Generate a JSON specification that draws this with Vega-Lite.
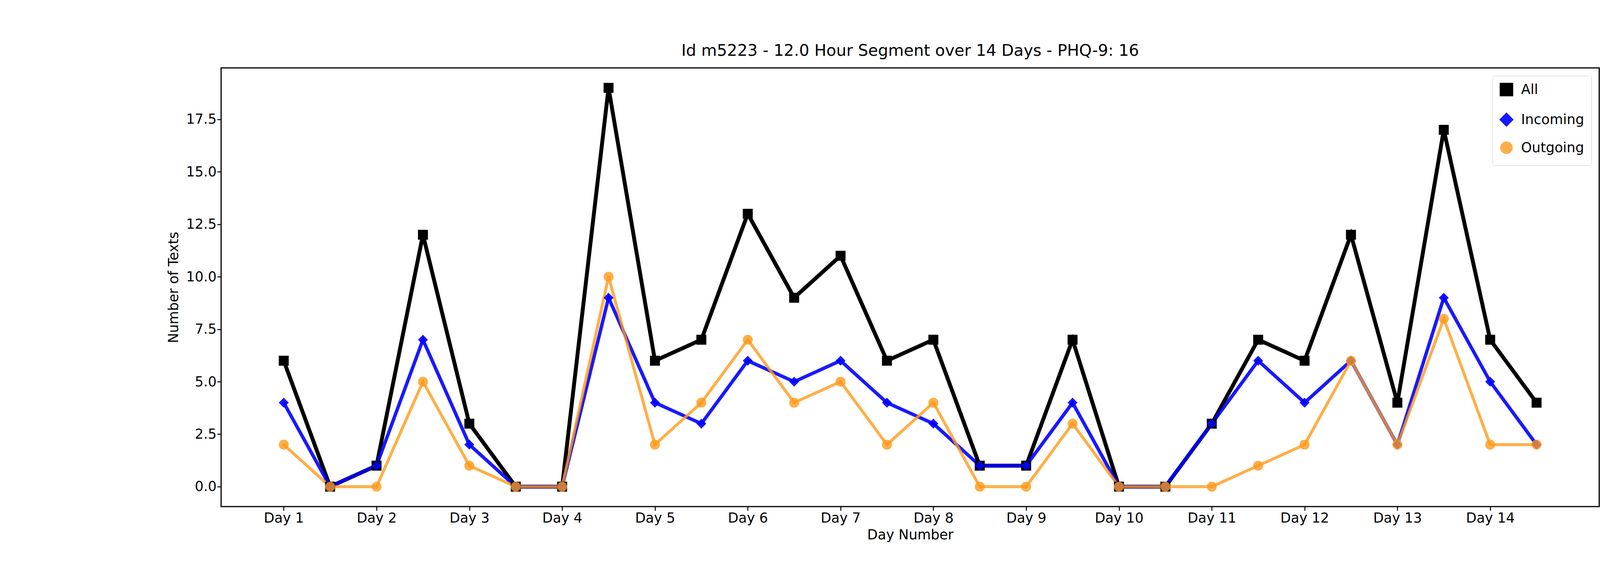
{
"$schema":"https://vega.github.io/schema/vega-lite/v6.json",
"autosize":"none","width":3528,"height":1124,
"padding":{"left":566,"top":174,"right":406,"bottom":142},
"background":"white",
"title":{"text":"Id m5223 - 12.0 Hour Segment over 14 Days - PHQ-9: 16","fontSize":41,"font":"DejaVu Sans","fontWeight":"normal","offset":22},
"config":{"view":{"stroke":"black","strokeWidth":3},"axis":{"labelFont":"DejaVu Sans","titleFont":"DejaVu Sans","labelFontSize":35,"titleFontSize":35,"titleFontWeight":"normal","grid":false,"domain":false,"tickColor":"black","tickSize":10,"tickWidth":2.5,"labelColor":"black","titleColor":"black"}},
"datasets":{"d":[
{"x":1,"All":6,"Incoming":4,"Outgoing":2},{"x":1.5,"All":0,"Incoming":0,"Outgoing":0},
{"x":2,"All":1,"Incoming":1,"Outgoing":0},{"x":2.5,"All":12,"Incoming":7,"Outgoing":5},
{"x":3,"All":3,"Incoming":2,"Outgoing":1},{"x":3.5,"All":0,"Incoming":0,"Outgoing":0},
{"x":4,"All":0,"Incoming":0,"Outgoing":0},{"x":4.5,"All":19,"Incoming":9,"Outgoing":10},
{"x":5,"All":6,"Incoming":4,"Outgoing":2},{"x":5.5,"All":7,"Incoming":3,"Outgoing":4},
{"x":6,"All":13,"Incoming":6,"Outgoing":7},{"x":6.5,"All":9,"Incoming":5,"Outgoing":4},
{"x":7,"All":11,"Incoming":6,"Outgoing":5},{"x":7.5,"All":6,"Incoming":4,"Outgoing":2},
{"x":8,"All":7,"Incoming":3,"Outgoing":4},{"x":8.5,"All":1,"Incoming":1,"Outgoing":0},
{"x":9,"All":1,"Incoming":1,"Outgoing":0},{"x":9.5,"All":7,"Incoming":4,"Outgoing":3},
{"x":10,"All":0,"Incoming":0,"Outgoing":0},{"x":10.5,"All":0,"Incoming":0,"Outgoing":0},
{"x":11,"All":3,"Incoming":3,"Outgoing":0},{"x":11.5,"All":7,"Incoming":6,"Outgoing":1},
{"x":12,"All":6,"Incoming":4,"Outgoing":2},{"x":12.5,"All":12,"Incoming":6,"Outgoing":6},
{"x":13,"All":4,"Incoming":2,"Outgoing":2},{"x":13.5,"All":17,"Incoming":9,"Outgoing":8},
{"x":14,"All":7,"Incoming":5,"Outgoing":2},{"x":14.5,"All":4,"Incoming":2,"Outgoing":2}
]},
"data":{"name":"d"},
"transform":[{"fold":["All","Incoming","Outgoing"],"as":["series","value"]}],
"encoding":{
"x":{"field":"x","type":"quantitative","scale":{"domain":[0.325,15.175],"nice":false,"zero":false},"axis":{"values":[1,2,3,4,5,6,7,8,9,10,11,12,13,14],"labelExpr":"'Day ' + datum.value","title":"Day Number","titlePadding":8}},
"y":{"field":"value","type":"quantitative","scale":{"domain":[-0.95,19.95],"nice":false,"zero":false},"axis":{"values":[0,2.5,5,7.5,10,12.5,15,17.5],"format":".1f","title":"Number of Texts","titlePadding":14}},
"color":{"field":"series","type":"nominal","scale":{"domain":["All","Incoming","Outgoing"],"range":["#000000","#0000ff","#ff9a1a"]},
"legend":{"title":null,"orient":"top-right","offset":20,"labelFontSize":35,"labelFont":"DejaVu Sans","labelLimit":0,"labelOffset":20,"symbolSize":600,"strokeColor":"#cccccc","padding":18,"fillColor":"white","cornerRadius":6,"rowPadding":14,"symbolStrokeWidth":0}},
"shape":{"field":"series","type":"nominal","scale":{"domain":["All","Incoming","Outgoing"],"range":["square","diamond","circle"]}},
"opacity":{"field":"series","type":"nominal","scale":{"domain":["All","Incoming","Outgoing"],"range":[1,0.8,0.8]},"legend":null}
},
"layer":[
{"mark":{"type":"line"},"encoding":{"strokeWidth":{"field":"series","type":"nominal","scale":{"domain":["All","Incoming","Outgoing"],"range":[10,7.5,6.5]},"legend":null}}},
{"mark":{"type":"point","filled":true,"size":650}}
]
}
